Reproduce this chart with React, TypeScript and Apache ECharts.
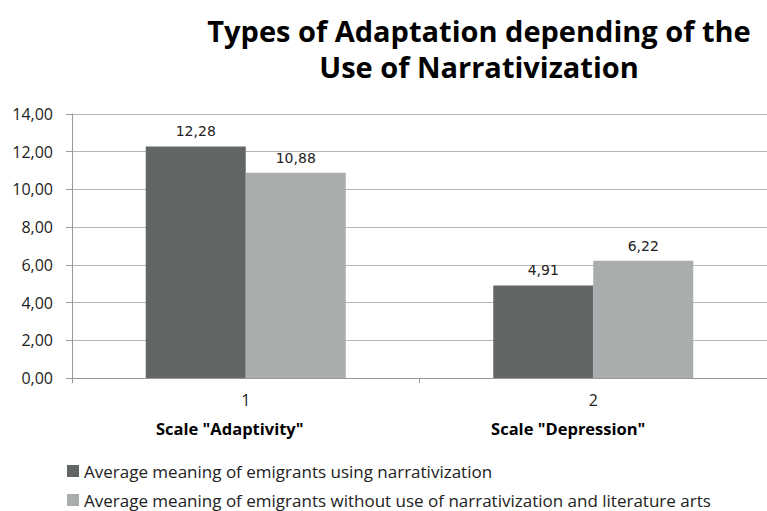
import React, { useEffect, useRef } from "react";
import * as echarts from "echarts";

const categories = ["1", "2"];
const scaleNames = ['Scale "Adaptivity"', 'Scale "Depression"'];
const seriesNames = [
  "Average meaning of emigrants using narrativization",
  "Average meaning of emigrants without use of narrativization and literature arts",
];
const withNarrativization = [12.28, 4.91];
const withoutNarrativization = [10.88, 6.22];
const titleLines = ["Types of Adaptation depending of the", "Use of Narrativization"];

const fmt = (v: number) => v.toFixed(2).replace(".", ",");

export default function App() {
  const ref = useRef<HTMLDivElement>(null);
  useEffect(() => {
    document.body.style.margin = "0";
    const chart = echarts.init(ref.current!, undefined, { renderer: "svg" });
    const font = "'Open Sans', 'Noto Sans', sans-serif";
    const legendBase = {
      orient: "vertical",
      left: 67,
      padding: 0,
      itemWidth: 12,
      itemHeight: 12,
      icon: "rect",
      selectedMode: false,
      textStyle: { fontSize: 17, lineHeight: 20, color: "#222222", fontFamily: font },
    };
    const subStyle = { fontSize: 16.5, lineHeight: 28, fontWeight: "bold", color: "#000000", fontFamily: font };
    const titleStyle = {
      fontFamily: font,
      fontWeight: "bold",
      fontSize: 29,
      fill: "#000000",
      align: "center",
      verticalAlign: "middle",
    };
    chart.setOption({
      animation: false,
      backgroundColor: "#ffffff",
      textStyle: { fontFamily: font },
      graphic: titleLines.map((t, i) => ({
        type: "text",
        x: 479,
        y: 30 + i * 36,
        style: { ...titleStyle, text: t },
      })),
      legend: [
        { ...legendBase, top: 461, data: [seriesNames[0]] },
        { ...legendBase, top: 490, data: [seriesNames[1]] },
      ],
      grid: { left: 72, top: 114, width: 700, height: 264, containLabel: false },
      xAxis: {
        type: "category",
        data: categories,
        axisLine: { lineStyle: { color: "#9a9a9a" } },
        axisTick: { show: true, length: 5, alignWithLabel: false, lineStyle: { color: "#9a9a9a" } },
        axisLabel: {
          margin: 8,
          formatter: (v: string, i: number) => `{a|${v}}\n{b${i}|${scaleNames[i]}}`,
          rich: {
            a: { fontSize: 16, lineHeight: 28, color: "#222222", fontFamily: font },
            b0: { ...subStyle, padding: [0, 32, 0, 0] },
            b1: { ...subStyle, padding: [0, 50, 0, 0] },
          },
        },
      },
      yAxis: {
        type: "value",
        min: 0,
        max: 14,
        interval: 2,
        axisLine: { show: true, lineStyle: { color: "#9a9a9a" } },
        axisTick: { show: true, length: 6, lineStyle: { color: "#9a9a9a" } },
        splitLine: { lineStyle: { color: "#b5b5b5" } },
        axisLabel: { margin: 19, fontSize: 16, color: "#222222", formatter: (v: number) => fmt(v) },
      },
      series: [
        {
          name: seriesNames[0],
          type: "bar",
          data: withNarrativization,
          barWidth: 100,
          barGap: "0%",
          itemStyle: { color: "#626667" },
          label: {
            show: true,
            position: "top",
            distance: 8,
            fontFamily: "'DejaVu Sans', sans-serif",
            fontSize: 14,
            color: "#222222",
            formatter: (p: any) => fmt(p.value),
          },
        },
        {
          name: seriesNames[1],
          type: "bar",
          data: withoutNarrativization,
          barWidth: 100,
          barGap: "0%",
          itemStyle: { color: "#a9adae" },
          label: {
            show: true,
            position: "top",
            distance: 8,
            fontFamily: "'DejaVu Sans', sans-serif",
            fontSize: 14,
            color: "#222222",
            formatter: (p: any) => fmt(p.value),
          },
        },
      ],
    });
    return () => chart.dispose();
  }, []);
  return (
    <div
      ref={ref}
      style={{ position: "absolute", left: 0, top: 0, width: 767, height: 511 }}
    />
  );
}
